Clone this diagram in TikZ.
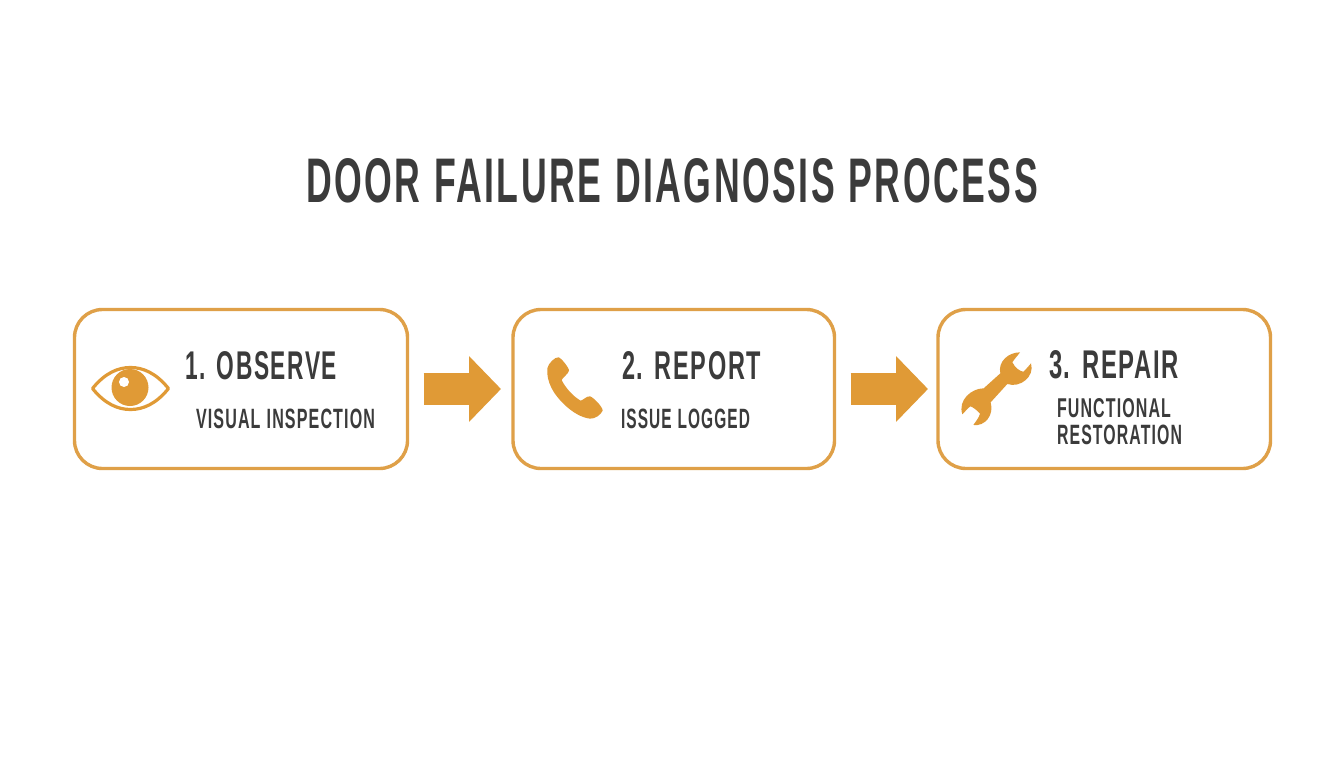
\documentclass[tikz,border=0pt]{standalone}
\usepackage{fontspec}
\usepackage{graphicx}
\setmainfont{Liberation Sans}[LetterSpace=7,WordSpace=1.1]
\usetikzlibrary{arrows.meta}
\definecolor{accent}{HTML}{E09A36}
\definecolor{boxline}{HTML}{DFA048}
\definecolor{ink}{HTML}{3B3B3B}
\newcommand{\fitted}[3]{\resizebox{#1pt}{#2pt}{\bfseries #3}}
\tikzset{
  stepbox/.style={draw=boxline,line width=3.4pt,rounded corners=28pt,fill=white,outer sep=0pt,inner sep=0pt,minimum height=159pt,anchor=north west},
  label/.style={text=ink,inner sep=0pt,outer sep=0pt,anchor=base west},
  flow/.style={draw=accent,line width=32pt,-{Triangle[length=32pt,width=64pt,fill=accent]}}
}
\begin{document}
\begin{tikzpicture}[x=1pt,y=-1pt]
\useasboundingbox (0,0) rectangle (1344,768);
\fill[white] (0,0) rectangle (1344,768);
\node[label] (title) at (306,202) {\fitted{732}{44}{DOOR FAILURE DIAGNOSIS PROCESS}};

\node[stepbox,minimum width=333pt] (b1) at (74.5,309.5) {};
\node[stepbox,minimum width=321.5pt] (b2) at (513,309.5) {};
\node[stepbox,minimum width=332.5pt] (b3) at (938,309.5) {};

\draw[flow,shorten <=16pt,shorten >=12pt] (b1) -- (b2);
\draw[flow,shorten <=16pt,shorten >=10pt] (b2) -- (b3);

\node[label] (t1) at (185,379.5) {\fitted{152}{28}{1. OBSERVE}};
\node[label] (s1) at (196,428) {\fitted{179}{19.5}{VISUAL INSPECTION}};
\node[label] (t2) at (622,379.5) {\fitted{139}{28}{2. REPORT}};
\node[label] (s2) at (621,428) {\fitted{129}{19.5}{ISSUE LOGGED}};
\node[label] (t3) at (1049,378) {\fitted{130}{28}{3. REPAIR}};
\node[label] (s3a) at (1057,417) {\fitted{114}{19}{FUNCTIONAL}};
\node[label] (s3b) at (1057,444) {\fitted{125}{19.5}{RESTORATION}};

% eye
\draw[accent,line width=3.2pt,line join=round] (92.5,388.5) .. controls (105,373) and (118,367.5) .. (130.5,367.5) .. controls (143,367.5) and (156,373) .. (168.5,388.5) .. controls (156,404) and (143,409.5) .. (130.5,409.5) .. controls (118,409.5) and (105,404) .. (92.5,388.5) -- cycle;
\fill[accent] (130,387.5) circle (18.5);
\fill[white] (124,382) circle (5);

% phone
\begin{scope}[xshift=510pt,yshift=-300pt,x=0.3333pt,y=-0.3333pt]
\fill[accent] (112,205) .. controls (115,190) and (135,170) .. (146,172)
  .. controls (155,175) and (178,205) .. (177,212)
  .. controls (175,222) and (158,232) .. (155,240)
  .. controls (165,262) and (190,290) .. (212,302)
  .. controls (220,300) and (230,288) .. (240,289)
  .. controls (250,292) and (278,320) .. (278,332)
  .. controls (272,345) and (255,357) .. (240,356)
  .. controls (190,350) and (140,295) .. (125,265)
  .. controls (115,245) and (110,225) .. (112,205) -- cycle;
\end{scope}

% wrench
\begin{scope}[xshift=955pt,yshift=-345pt,x=0.3333pt,y=-0.3333pt]
\fill[accent] (195,22) .. controls (160,22) and (128,50) .. (136,85) -- (86,130)
  .. controls (50,130) and (8,165) .. (22,208)
  .. controls (30,200) and (38,190) .. (46,184)
  .. controls (52,185) and (68,197) .. (75,206)
  .. controls (72,218) and (62,230) .. (55,240)
  .. controls (90,245) and (118,210) .. (107,172) -- (157,117)
  .. controls (195,130) and (240,95) .. (228,55)
  .. controls (222,62) and (214,72) .. (205,80)
  .. controls (196,80) and (180,68) .. (172,52)
  .. controls (178,42) and (188,32) .. (195,22) -- cycle;
\end{scope}
\end{tikzpicture}
\end{document}
